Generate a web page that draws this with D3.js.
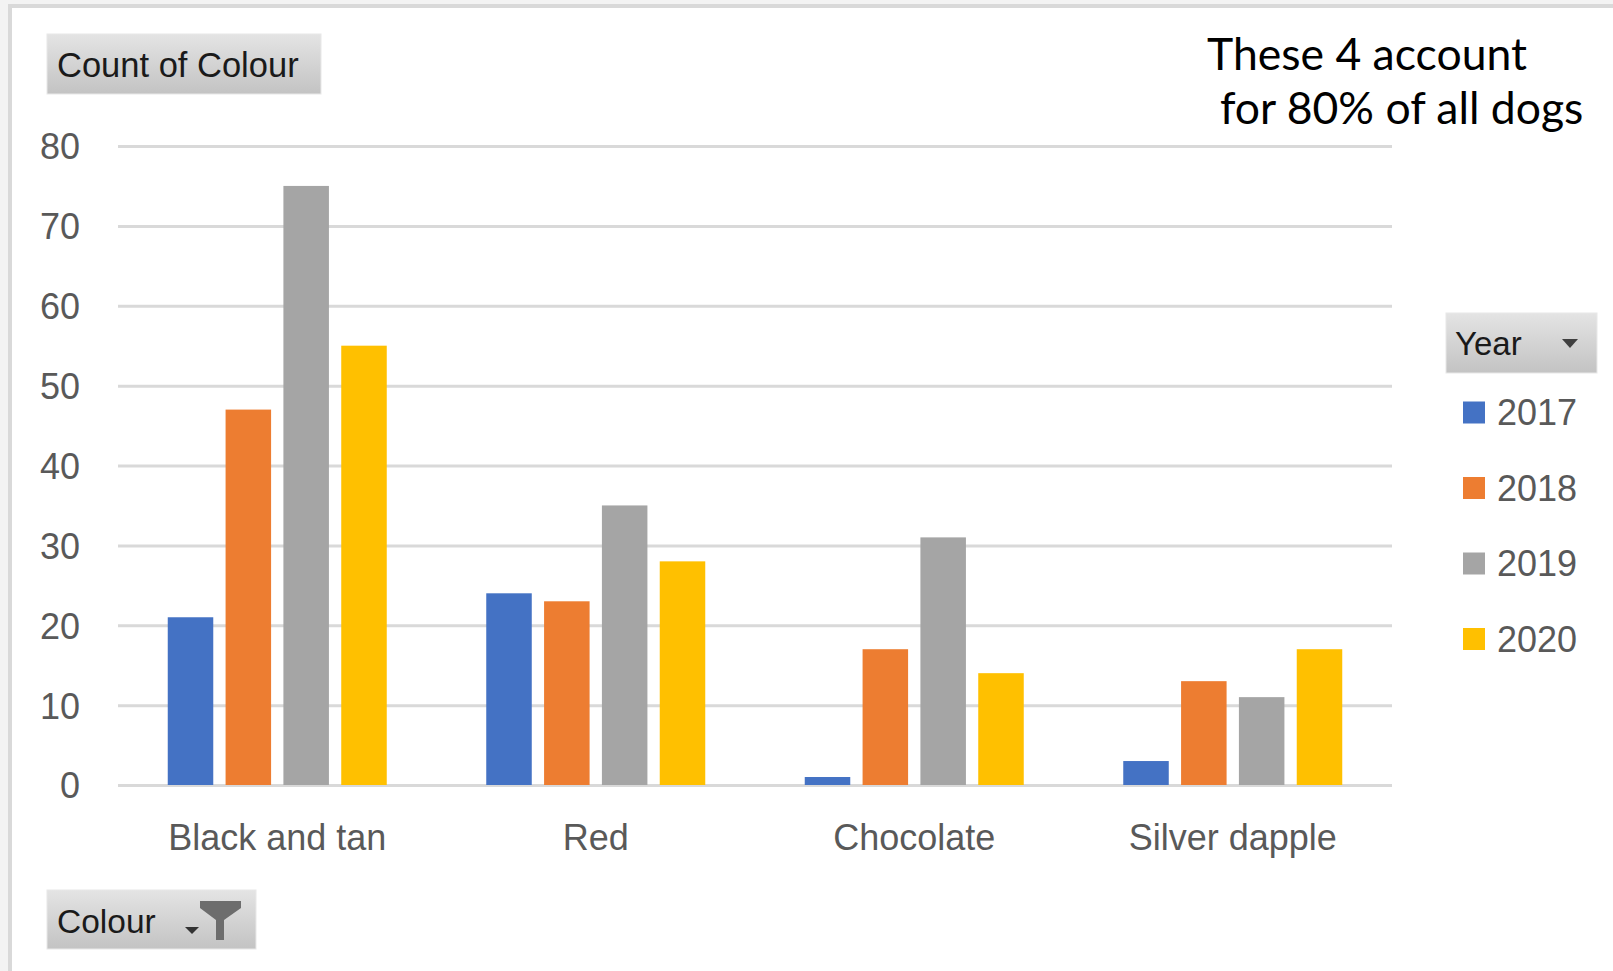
<!DOCTYPE html>
<html>
<head>
<meta charset="utf-8">
<script src="https://cdn.jsdelivr.net/npm/d3@7"></script>
<style>
  html, body { margin: 0; padding: 0; background: #f3f3f3; }
  svg { display: block; }
</style>
</head>
<body>
<svg id="chart" width="1613" height="971"></svg>
<script>
// ---- Data ----
const categories = ["Black and tan", "Red", "Chocolate", "Silver dapple"];
const years = ["2017", "2018", "2019", "2020"];
const values2017 = [21, 24, 1, 3];
const values2018 = [47, 23, 17, 13];
const values2019 = [75, 35, 31, 11];
const values2020 = [55, 28, 14, 17];
const yTicks = [0, 10, 20, 30, 40, 50, 60, 70, 80];
const colors = ["#4472C4", "#ED7D31", "#A5A5A5", "#FFC000"];
const annotationLines = ["These 4 account", "for 80% of all dogs"];

const seriesValues = [values2017, values2018, values2019, values2020];
const table = categories.map((c, i) => ({
  category: c,
  values: years.map((y, j) => ({ year: y, value: seriesValues[j][i] }))
}));

// ---- Layout ----
const svg = d3.select("#chart");
const W = 1613, H = 971;
const plot = { left: 118, right: 1392, top: 146, bottom: 785 };
const labelFont = "'Liberation Sans', Arial, sans-serif";
const textGrey = "#595959";

// gradient for pivot buttons
const defs = svg.append("defs");
const grad = defs.append("linearGradient").attr("id", "btn").attr("x1", 0).attr("y1", 0).attr("x2", 0).attr("y2", 1);
grad.append("stop").attr("offset", "0%").attr("stop-color", "#e4e4e4");
grad.append("stop").attr("offset", "100%").attr("stop-color", "#c3c3c3");

// background & frame
svg.append("rect").attr("x", 0).attr("y", 0).attr("width", W).attr("height", H).attr("fill", "#f3f3f3");
svg.append("rect").attr("x", 10).attr("y", 6).attr("width", W + 20).attr("height", H + 20)
  .attr("fill", "#ffffff").attr("stroke", "#d9d9d9").attr("stroke-width", 4);

// ---- Scales ----
const y = d3.scaleLinear().domain([0, 80]).range([plot.bottom, plot.top]);
const x0 = d3.scaleBand().domain(categories).range([plot.left, plot.right]).padding(0);
const groupW = 219;
const x1 = d3.scaleBand().domain(years)
  .range([(x0.bandwidth() - groupW) / 2, (x0.bandwidth() + groupW) / 2])
  .paddingInner(0.213).paddingOuter(0);
const color = d3.scaleOrdinal().domain(years).range(colors);

// ---- Gridlines ----
const yAxis = d3.axisLeft(y).tickValues(yTicks).tickSize(-(plot.right - plot.left)).tickPadding(38);
const gy = svg.append("g").attr("transform", `translate(${plot.left},0)`).call(yAxis);
gy.select(".domain").remove();
gy.selectAll(".tick line").attr("stroke", "#d9d9d9").attr("stroke-width", 3);
gy.selectAll(".tick text")
  .attr("fill", textGrey)
  .style("font-family", labelFont)
  .style("font-size", "36px")
  .attr("dy", "0.36em");

// ---- Bars ----
const groups = svg.append("g").selectAll("g").data(table).join("g")
  .attr("transform", d => `translate(${x0(d.category)},0)`);
groups.selectAll("rect").data(d => d.values).join("rect")
  .attr("x", d => x1(d.year))
  .attr("width", x1.bandwidth())
  .attr("y", d => y(d.value))
  .attr("height", d => y(0) - y(d.value))
  .attr("fill", d => color(d.year));

// ---- Category axis ----
const xAxis = d3.axisBottom(x0).tickSize(0).tickPadding(0);
const gx = svg.append("g").attr("transform", `translate(0,${plot.bottom})`).call(xAxis);
gx.select(".domain").remove();
gx.selectAll(".tick text")
  .attr("fill", textGrey)
  .attr("y", 65)
  .attr("dy", 0)
  .style("font-family", labelFont)
  .style("font-size", "36px");

// ---- "Count of Colour" button ----
svg.append("rect").attr("x", 47).attr("y", 34).attr("width", 274).attr("height", 60)
  .attr("fill", "url(#btn)").attr("stroke", "#e8e8e8").attr("stroke-width", 1);
svg.append("text").attr("x", 57).attr("y", 77).text("Count of Colour")
  .attr("fill", "#1a1a1a").style("font-family", labelFont).style("font-size", "34.5px");

// ---- "Colour" button ----
svg.append("rect").attr("x", 47).attr("y", 890).attr("width", 209).attr("height", 59)
  .attr("fill", "url(#btn)").attr("stroke", "#e8e8e8").attr("stroke-width", 1);
svg.append("text").attr("x", 57).attr("y", 933).text("Colour")
  .attr("fill", "#1a1a1a").style("font-family", labelFont).style("font-size", "33.5px");
svg.append("path").attr("d", "M185,927 H199 L192,934 Z").attr("fill", "#333");
svg.append("path").attr("d", "M200,901 H241 V908 L224,920 V940 H216 V920 L200,908 Z").attr("fill", "#6d6d6d");

// ---- Legend ----
svg.append("rect").attr("x", 1446).attr("y", 313).attr("width", 151).attr("height", 60)
  .attr("fill", "url(#btn)").attr("stroke", "#e8e8e8").attr("stroke-width", 1);
svg.append("text").attr("x", 1455).attr("y", 355).text("Year")
  .attr("fill", "#1a1a1a").style("font-family", labelFont).style("font-size", "33px");
svg.append("path").attr("d", "M1562,339 H1578 L1570,348 Z").attr("fill", "#404040");

const legendY = d3.scalePoint().domain(years).range([412.5, 639]);
const leg = svg.append("g").selectAll("g").data(years).join("g")
  .attr("transform", d => `translate(1463,${legendY(d)})`);
leg.append("rect").attr("x", 0).attr("y", -11).attr("width", 22).attr("height", 22)
  .attr("fill", d => color(d));
leg.append("text").attr("x", 34).attr("y", 0).attr("dy", "0.36em").text(d => d)
  .attr("fill", textGrey).style("font-family", labelFont).style("font-size", "36px");

// ---- Annotation ----
const annX = [1207, 1220];
const annY = [70, 124];
svg.append("g").selectAll("text").data(annotationLines).join("text")
  .attr("x", (d, i) => annX[i]).attr("y", (d, i) => annY[i])
  .text(d => d)
  .attr("fill", "#000")
  .style("font-family", "Lato, 'Open Sans', sans-serif")
  .style("font-size", "44.5px");
</script>
</body>
</html>
